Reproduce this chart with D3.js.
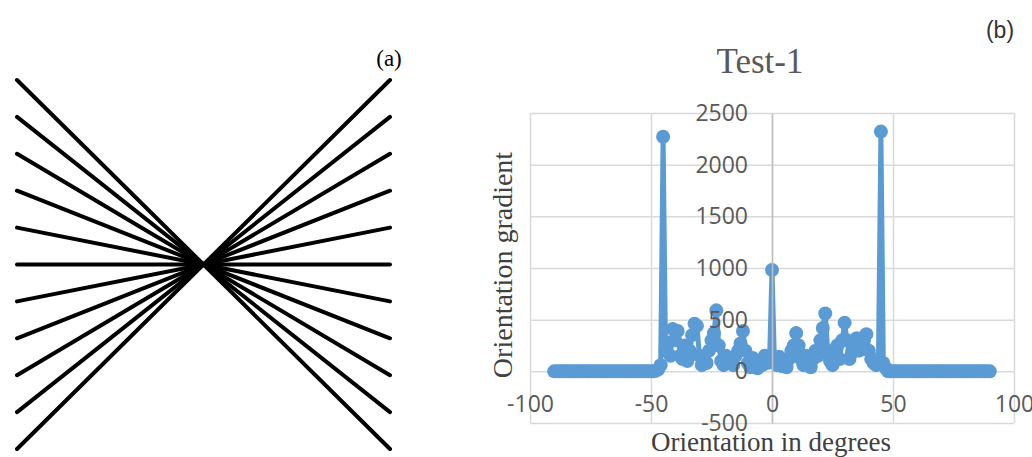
<!DOCTYPE html>
<html>
<head>
<meta charset="utf-8">
<script src="https://cdn.jsdelivr.net/npm/d3@7"></script>
<style>
    body { margin: 0; background: #fff; }
    svg { display: block; }
    .tick-label text { font-family: 'Open Sans', sans-serif; font-size: 23px; fill: #595959; }
    .axis-title { font-family: 'Liberation Serif', serif; fill: #404040; }
</style>
</head>
<body>
<div class="figure"></div>
<script>
// panel (a): each line runs from left offset k to right offset -k
const fanOffsets = [-5, -4, -3, -2, -1, 0, 1, 2, 3, 4, 5];

// panel (b): orientation gradient, one value per degree from -90 to 90
const degrees = d3.range(-90, 91);
const gradient = [
    0, 0, 0, 0, 0, 0, 0, 0, 0, 0,
    0, 0, 0, 0, 0, 0, 0, 0, 0, 0,
    0, 0, 0, 0, 0, 0, 0, 0, 0, 0,
    0, 0, 0, 0, 0, 0, 0, 0, 0, 0,
    0, 0, 5, 20, 60,
    2270,
    200, 280, 150, 410, 300, 390, 150, 120, 250,
    100, 200, 350, 460, 440, 150, 60, 120, 80, 200,
    300, 370, 590, 250, 100, 60, 150, 80, 120, 60,
    150, 200, 270, 390, 200, 80, 40, 130, 60, 30,
    100, 60, 150, 80, 120,
    980,
    100, 60, 140, 50, 90, 40, 120, 200, 250, 370,
    250, 120, 60, 150, 80, 40, 120, 200, 150, 300,
    420, 560, 200, 100, 60, 150, 250, 120, 300, 470,
    300, 120, 180, 250, 320, 200, 250, 300, 360, 200,
    120, 80, 60, 120,
    2320,
    80, 30, 0, 0, 0,
    0, 0, 0, 0, 0, 0, 0, 0, 0, 0,
    0, 0, 0, 0, 0, 0, 0, 0, 0, 0,
    0, 0, 0, 0, 0, 0, 0, 0, 0, 0,
    0, 0, 0, 0, 0, 0, 0, 0, 0, 0
];
const xTicks = [-100, -50, 0, 50, 100];
const yTicks = [-500, 0, 500, 1000, 1500, 2000, 2500];

function figure() {
    let svg;
    let width = 1032;
    let height = 457;
    let plot = { left: 530, right: 1014, top: 113, bottom: 423 };
    let fan = { left: 17, right: 390, top: 80, bottom: 449 };
    let xScale, yScale, fanX, fanY;

    const lineColor = '#5b9bd5';
    const gridColor = '#d9d9d9';
    // plain hyphen, no thousands separator, as in the original
    const plainFormat = (d) => String(d);

    function exports(_selection) {
        _selection.each(function() {
            buildScales();
            buildSVG(this);
            drawFan();
            drawGrid();
            drawSeries();
            drawAxes();
            drawTitles();
        });
    }

    function buildScales() {
        fanX = d3.scaleLinear().domain([-1, 1]).range([fan.left, fan.right]);
        fanY = d3.scaleLinear().domain([-5, 5]).range([fan.top, fan.bottom]);

        xScale = d3.scaleLinear().domain([-100, 100]).range([plot.left, plot.right]);
        yScale = d3.scaleLinear().domain([-500, 2500]).range([plot.bottom, plot.top]);
    }

    function buildSVG(container) {
        svg = d3.select(container)
          .append('svg')
            .attr('width', width)
            .attr('height', height);

        svg.append('rect')
            .attr('width', width)
            .attr('height', height)
            .attr('fill', '#fff');
    }

    function drawFan() {
        svg.append('g')
            .classed('fan', true)
          .selectAll('line')
            .data(fanOffsets)
          .enter().append('line')
            .attr('x1', fanX(-1))
            .attr('y1', (k) => fanY(k))
            .attr('x2', fanX(1))
            .attr('y2', (k) => fanY(-k))
            .attr('stroke', '#000')
            .attr('stroke-width', 4)
            .attr('stroke-linecap', 'round');

        svg.append('text')
            .attr('x', 389)
            .attr('y', 66)
            .attr('text-anchor', 'middle')
            .style('font-family', "'Liberation Serif', serif")
            .style('font-size', '23px')
            .text('(a)');
    }

    function drawGrid() {
        const plotW = plot.right - plot.left;
        const plotH = plot.bottom - plot.top;

        svg.append('g')
            .attr('transform', `translate(${plot.left},0)`)
            .call(d3.axisLeft(yScale).tickValues(yTicks).tickSize(-plotW).tickFormat(''))
            .call((g) => g.select('.domain').remove())
            .call((g) => g.selectAll('line').attr('stroke', gridColor).attr('stroke-width', 1.5));

        svg.append('g')
            .attr('transform', `translate(0,${plot.bottom})`)
            .call(d3.axisBottom(xScale).tickValues(xTicks).tickSize(-plotH).tickFormat(''))
            .call((g) => g.select('.domain').remove())
            .call((g) => g.selectAll('line').attr('stroke', gridColor).attr('stroke-width', 1.5));
    }

    function drawSeries() {
        const points = degrees.map((d, i) => ({ deg: d, value: gradient[i] }));
        const line = d3.line()
            .x((d) => xScale(d.deg))
            .y((d) => yScale(d.value));

        const g = svg.append('g').classed('series', true);

        g.append('path')
            .datum(points)
            .attr('d', line)
            .attr('fill', 'none')
            .attr('stroke', lineColor)
            .attr('stroke-width', 5)
            .attr('stroke-linejoin', 'round');

        g.selectAll('circle')
            .data(points)
          .enter().append('circle')
            .attr('cx', (d) => xScale(d.deg))
            .attr('cy', (d) => yScale(d.value))
            .attr('r', 7)
            .attr('fill', lineColor);
    }

    function drawAxes() {
        svg.append('g')
            .classed('tick-label', true)
            .attr('transform', `translate(${xScale(0)},0)`)
            .call(d3.axisLeft(yScale).tickValues(yTicks).tickFormat(plainFormat).tickSize(0).tickPadding(24))
            .call((g) => g.select('.domain').attr('stroke', '#bfbfbf').attr('stroke-width', 1.5));

        svg.append('g')
            .classed('tick-label', true)
            .attr('transform', `translate(0,${yScale(0)})`)
            .call(d3.axisBottom(xScale).tickValues(xTicks).tickFormat(plainFormat).tickSize(0).tickPadding(24))
            .call((g) => g.select('.domain').remove());

        svg.selectAll('.tick-label').attr('font-family', null).attr('font-size', null);
    }

    function drawTitles() {
        svg.append('text')
            .classed('axis-title', true)
            .attr('x', 760)
            .attr('y', 73)
            .attr('text-anchor', 'middle')
            .style('font-size', '35px')
            .style('fill', '#595959')
            .text('Test-1');

        svg.append('text')
            .classed('axis-title', true)
            .attr('x', 771)
            .attr('y', 451)
            .attr('text-anchor', 'middle')
            .style('font-size', '27px')
            .text('Orientation in degrees');

        svg.append('text')
            .classed('axis-title', true)
            .attr('transform', 'translate(512,265) rotate(-90)')
            .attr('text-anchor', 'middle')
            .style('font-size', '28px')
            .text('Orientation gradient');

        svg.append('text')
            .attr('x', 1000)
            .attr('y', 38)
            .attr('text-anchor', 'middle')
            .style('font-family', "'Liberation Sans', sans-serif")
            .style('font-size', '23px')
            .style('fill', '#333')
            .text('(b)');
    }

    return exports;
}

d3.select('.figure').call(figure());
</script>
</body>
</html>
